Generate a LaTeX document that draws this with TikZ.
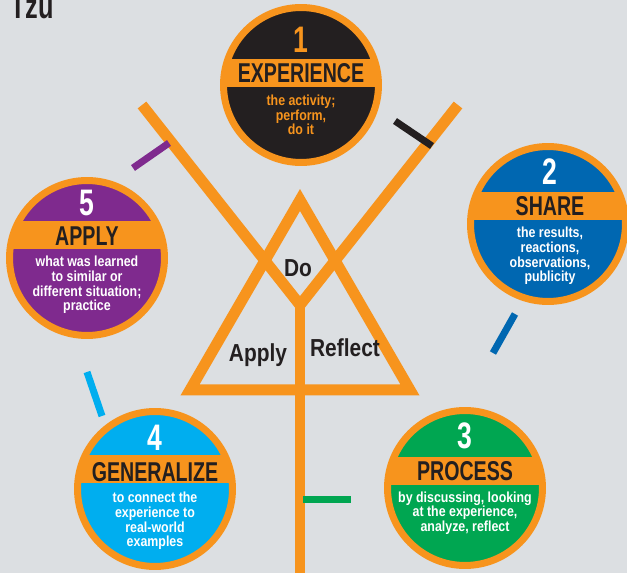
\documentclass[tikz,border=0pt]{standalone}
\usepackage{fontspec}
\setmainfont{Liberation Sans}
\newfontfamily\headfont{Liberation Sans}[FakeStretch=0.72]
\newfontfamily\bodyfont{Liberation Sans}[FakeStretch=0.85]
\usepackage{tikz}
\definecolor{bg}{RGB}{220,223,226}
\definecolor{orng}{RGB}{247,148,29}
\definecolor{ink}{RGB}{35,31,32}
\definecolor{shareblue}{RGB}{0,103,177}
\definecolor{procgreen}{RGB}{0,166,81}
\definecolor{genblue}{RGB}{0,174,239}
\definecolor{applypurple}{RGB}{127,42,142}

\begin{document}
\begin{tikzpicture}[x=0.02cm,y=-0.02cm,every node/.style={inner sep=0pt},
  stage/.style 2 args={circle,minimum size=3.1cm,fill=#1,draw=orng,line width=0.14cm,
    path picture={\fill[orng] ([yshift=#2]path picture bounding box.west) rectangle ([yshift=#2+0.55cm]path picture bounding box.east);}},
  num/.style={font=\headfont\bfseries\fontsize{21}{21}\selectfont,text=white},
  ttl/.style={font=\headfont\bfseries\fontsize{15.5}{15.5}\selectfont,text=ink},
  txt/.style={font=\bodyfont\bfseries\fontsize{8.3}{8.4}\selectfont,align=center,text=white},
  lbl/.style={font=\bodyfont\bfseries\fontsize{14}{14}\selectfont,text=ink},
  bar/.style={line width=0.22cm,orng,line join=miter},
  tick/.style={line width=0.14cm,#1}]
\useasboundingbox[fill=bg] (0,0) rectangle (627,573);
\node[font=\headfont\bfseries\fontsize{20}{20}\selectfont,text=ink,anchor=base west](brand) at (10,19){Tzu} ;

% the fork and the triangle
\coordinate (armL) at (142,105);
\coordinate (armR) at (458,105);
\coordinate (fork) at (300,305);
\coordinate (foot) at (300,585);
\coordinate (tip) at (300,200);
\coordinate (cornerL) at (190,390);
\coordinate (cornerR) at (410,390);
\draw[bar] (armL) -- (fork) -- (armR);
\draw[bar] (fork) -- (foot);
\draw[bar] (tip) -- (cornerL) -- (cornerR) -- cycle;
\node[lbl](do) at (298,268){Do} ;
\node[lbl](apply) at (258,355){Apply} ;
\node[lbl](reflect) at (345,348){Reflect} ;

% short bars
\coordinate (t1a) at (395,121);
\coordinate (t1b) at (432,146);
\coordinate (t2a) at (515,314);
\coordinate (t2b) at (493,353);
\coordinate (t3a) at (303,500);
\coordinate (t3b) at (351,500);
\coordinate (t4a) at (87,372);
\coordinate (t4b) at (102,416);
\coordinate (t5a) at (133,168);
\coordinate (t5b) at (169,143);
\draw[tick=ink] (t1a) -- (t1b);
\draw[tick=shareblue] (t2a) -- (t2b);
\draw[tick=procgreen] (t3a) -- (t3b);
\draw[tick=genblue] (t4a) -- (t4b);
\draw[tick=applypurple] (t5a) -- (t5b);

% the five stages
\node[stage={ink}{-0.04cm}](experience) at (301,85){} ;
\node[num,text=orng](n1) at (301,40){1} ;
\node[ttl](h1) at (301,73){EXPERIENCE} ;
\node[txt,text=orng](b1) at (301,115){the activity;\\perform,\\do it} ;

\node[stage={shareblue}{0.08cm}](share) at (548,224){} ;
\node[num](n2) at (550,172){2} ;
\node[ttl](h2) at (550,206){SHARE} ;
\node[txt](b2) at (550,256){the results,\\reactions,\\observations,\\publicity} ;

\node[stage={procgreen}{0.06cm}](process) at (465,488){} ;
\node[num](n3) at (465,436){3} ;
\node[ttl](h3) at (465,471){PROCESS} ;
\node[txt](b3) at (465,513){by discussing, looking\\at the experience,\\analyze, reflect} ;

\node[stage={genblue}{0.12cm}](generalize) at (155,489){} ;
\node[num](n4) at (155,438){4} ;
\node[ttl](h4) at (155,472){GENERALIZE} ;
\node[txt](b4) at (155,521){to connect the\\experience to\\real-world\\examples} ;

\node[stage={applypurple}{0.18cm}](applystage) at (87,258){} ;
\node[num](n5) at (87,203){5} ;
\node[ttl](h5) at (87,236){APPLY} ;
\node[txt](b5) at (87,285){what was learned\\to similar or\\different situation;\\practice} ;
\end{tikzpicture}
\end{document}
